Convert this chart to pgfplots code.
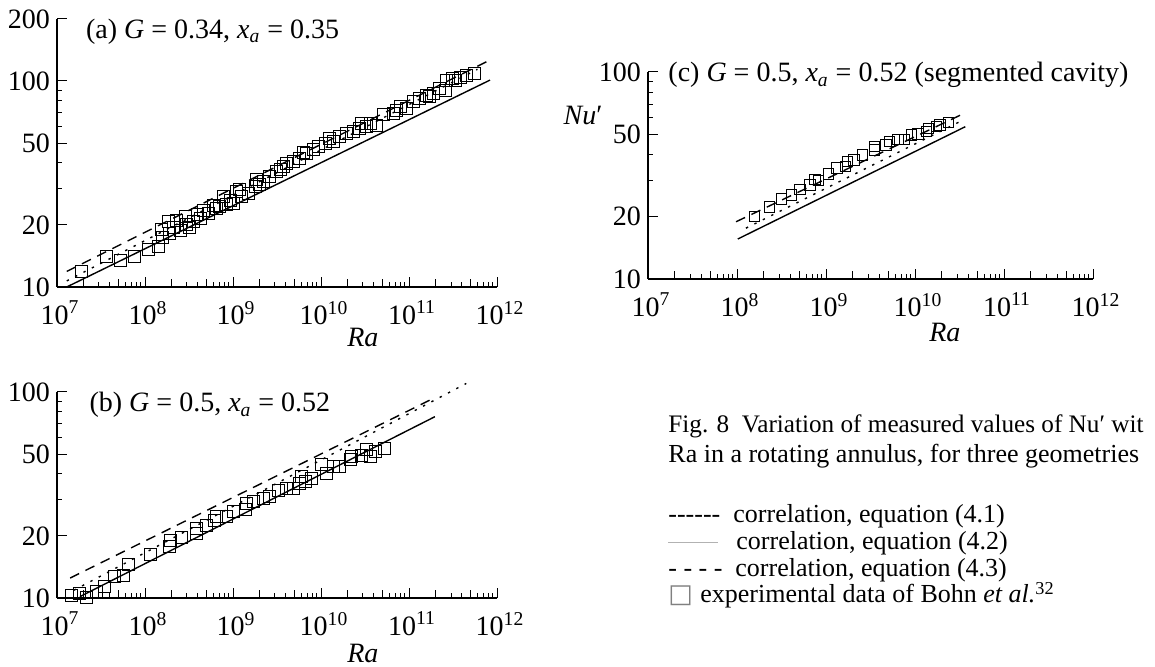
\documentclass[border=0pt]{standalone}
\usepackage{fontspec}
\setmainfont{Liberation Serif}
\newfontfamily\dejavu{DejaVu Sans}
\usepackage{pgfplots}
\pgfplotsset{compat=1.18}

\newcommand{\bigf}{\fontsize{14}{16}\selectfont}
\newcommand{\capf}{\fontsize{13}{15}\selectfont}

\begin{document}
\begin{tikzpicture}
\useasboundingbox (0,0) rectangle (577.5pt,333.5pt);

% ---------------- panel (a)
\begin{axis}[xmode=log, ymode=log, scale only axis,
    axis x line*=bottom, axis y line*=left,
    x axis line style={-}, y axis line style={-},
    axis line style={line width=0.6pt},
    xmin=1e7, xmax=1e12, tick align=inside,
    xtick={1e7,1e8,1e9,1e10,1e11,1e12},
    xticklabels={10\textsuperscript{7},10\textsuperscript{8},10\textsuperscript{9},10\textsuperscript{10},10\textsuperscript{11},10\textsuperscript{12}},
    minor xtick={3e7,4e7,6e7,7e7,8e7,9e7,3e8,4e8,6e8,7e8,8e8,9e8,3e9,4e9,6e9,7e9,8e9,9e9,3e10,4e10,6e10,7e10,8e10,9e10,3e11,4e11,6e11,7e11,8e11,9e11},
    extra x ticks={2e7,5e7,2e8,5e8,2e9,5e9,2e10,5e10,2e11,5e11},
    extra x tick labels={}, extra x tick style={major tick length=4pt},
    minor ytick={30,40,60,70,80,90},
    major tick length=5pt, minor tick length=2.5pt,
    tick style={black, line width=0.5pt},
    tick label style={font=\bigf}, xticklabel style={yshift=-3.5pt, xshift=1.5pt},
    clip=false,
    xlabel={\bigf\textit{Ra}},
    xlabel style={at={(axis description cs:0.695,0)}, anchor=center, yshift=-25pt},
    at={(28.5pt,190pt)}, anchor=south west,
    width=220pt, height=134pt, ymin=10, ymax=200,
    ytick={10,20,50,100,200}, yticklabels={10,20,50,100,200}]
\addplot[black, line width=0.7pt, dash pattern=on 5pt off 3.5pt] coordinates {(1.29e7,11.9) (7.59e11,124)};
\addplot[black, line width=0.7pt, dash pattern=on 1.2pt off 3.5pt] coordinates {(1.29e7,10.7) (6.0e11,114)};
\addplot[black, line width=0.7pt] coordinates {(1.29e7,10.0) (8.32e11,101)};
\addplot[only marks, mark=square, mark size=3pt, mark options={line width=0.5pt, black}] coordinates {
(1.905e7,11.9) (3.67e7,14.1) (5.2e7,13.4) (7.69e7,14.0) (1.09e8,15.2)
(1.416e8,15.8) (1.549e8,19.1) (1.923e8,18.2) (1.84e8,20.7) (2.29e8,21.1)
(2.5e8,18.9) (2.85e8,21.9) (2.95e8,20.0) (3.54e8,20.7) (4.22e8,21.5)
(4.57e8,23.6) (5.25e8,22.8) (5.97e8,25.0) (7.11e8,24.6) (7.76e8,27.4)
(9.25e8,26.4) (1.0e9,25.5) (1.096e9,29.0) (1.26e9,27.4) (1.49e9,28.5)
(1.78e9,30.7) (1.86e9,33.1) (2.21e9,32.4) (2.63e9,34.3) (3.14e9,36.3)
(3.72e9,38.4) (4.07e9,39.9) (4.85e9,40.6) (5.75e9,42.2) (6.87e9,44.6)
(8.13e9,46.3) (9.33e9,48.0) (1.11e10,49.8) (1.38e10,50.7) (1.64e10,53.7)
(1.95e10,55.7) (2.33e10,56.8) (2.75e10,58.9) (2.88e10,62.4) (3.61e10,62.4)
(4.27e10,61.1) (5.13e10,68.4) (6.61e10,69.7) (7.91e10,75.0) (9.42e10,73.6)
(1.12e11,79.4) (1.33e11,82.4) (1.58e11,85.5) (1.89e11,87.1) (2.24e11,92.2)
(2.57e11,90.4) (2.69e11,101) (3.16e11,103) (3.80e11,104) (4.53e11,106)
(5.62e11,109)
(1.6e8,17.3) (2.1e8,19.5) (3.2e8,19.5) (3.9e8,22.5) (6.5e8,24.0)
(8.5e8,25.2) (1.2e9,29.8) (2.0e9,31.5) (3.5e9,37.0) (6.3e9,45.0)
(1.25e10,52.5) (3.3e10,60.0) (7.2e10,72.0) (1.7e11,84.0) (3.4e11,100)
};
\node[anchor=base west, font=\bigf] at (axis description cs:0.05,0.929)
  {(a) \textit{G} = 0.34, \textit{x}\textsubscript{\textit{a}} = 0.35};
\end{axis}

% ---------------- panel (b)
\begin{axis}[xmode=log, ymode=log, scale only axis,
    axis x line*=bottom, axis y line*=left,
    x axis line style={-}, y axis line style={-},
    axis line style={line width=0.6pt},
    xmin=1e7, xmax=1e12, tick align=inside,
    xtick={1e7,1e8,1e9,1e10,1e11,1e12},
    xticklabels={10\textsuperscript{7},10\textsuperscript{8},10\textsuperscript{9},10\textsuperscript{10},10\textsuperscript{11},10\textsuperscript{12}},
    minor xtick={3e7,4e7,6e7,7e7,8e7,9e7,3e8,4e8,6e8,7e8,8e8,9e8,3e9,4e9,6e9,7e9,8e9,9e9,3e10,4e10,6e10,7e10,8e10,9e10,3e11,4e11,6e11,7e11,8e11,9e11},
    extra x ticks={2e7,5e7,2e8,5e8,2e9,5e9,2e10,5e10,2e11,5e11},
    extra x tick labels={}, extra x tick style={major tick length=4pt},
    minor ytick={30,40,60,70,80,90},
    major tick length=5pt, minor tick length=2.5pt,
    tick style={black, line width=0.5pt},
    tick label style={font=\bigf}, xticklabel style={yshift=-3.5pt, xshift=1.5pt},
    clip=false,
    xlabel={\bigf\textit{Ra}},
    xlabel style={at={(axis description cs:0.695,0)}, anchor=center, yshift=-27.5pt},
    at={(28.5pt,34.5pt)}, anchor=south west,
    width=220pt, height=103pt, ymin=10, ymax=100,
    ytick={10,20,50,100}, yticklabels={10,20,50,100}]
\addplot[black, line width=0.7pt, dash pattern=on 5pt off 3.5pt] coordinates {(1.41e7,12.5) (1.89e11,93.1)};
\addplot[black, line width=0.7pt, dash pattern=on 1.2pt off 3.5pt] coordinates {(1.55e7,10.9) (4.47e11,110)};
\addplot[black, line width=0.7pt] coordinates {(1.82e7,10.15) (1.97e11,75.9)};
\addplot[only marks, mark=square, mark size=3pt, mark options={line width=0.5pt, black}] coordinates {
(1.47e7,10.3) (1.82e7,10.5) (2.17e7,10.1) (2.82e7,10.7) (3.51e7,11.4)
(4.56e7,12.7) (5.66e7,12.9) (6.46e7,14.5) (1.14e8,16.2) (1.92e8,17.7)
(1.95e8,19.1) (2.61e8,19.7) (3.87e8,20.6) (3.87e8,21.8) (5.01e8,22.6)
(6.24e8,23.9) (6.53e8,24.8) (8.47e8,24.8) (1.01e9,26.3) (1.37e9,26.8)
(1.43e9,28.8) (1.70e9,29.3) (2.21e9,30.5) (2.63e9,31.0) (3.27e9,33.4)
(4.07e9,34.1) (4.85e9,34.1) (5.75e9,36.1) (6.03e9,38.8) (6.58e9,36.7)
(7.83e9,38.1) (1.02e10,44.3) (1.16e10,40.3) (1.38e10,43.4) (1.64e10,43.4)
(2.14e10,46.8) (2.24e10,48.5) (2.88e10,49.4) (3.31e10,52.3) (3.61e10,48.5)
(4.11e10,51.3) (5.33e10,53.3)
};
\node[anchor=base west, font=\bigf] at (axis description cs:0.058,0.904)
  {(b) \textit{G} = 0.5, \textit{x}\textsubscript{\textit{a}} = 0.52};
\end{axis}

% ---------------- panel (c)
\begin{axis}[xmode=log, ymode=log, scale only axis,
    axis x line*=bottom, axis y line*=left,
    x axis line style={-}, y axis line style={-},
    axis line style={line width=0.6pt},
    xmin=1e7, xmax=1e12, tick align=inside,
    xtick={1e7,1e8,1e9,1e10,1e11,1e12},
    xticklabels={10\textsuperscript{7},10\textsuperscript{8},10\textsuperscript{9},10\textsuperscript{10},10\textsuperscript{11},10\textsuperscript{12}},
    minor xtick={3e7,4e7,6e7,7e7,8e7,9e7,3e8,4e8,6e8,7e8,8e8,9e8,3e9,4e9,6e9,7e9,8e9,9e9,3e10,4e10,6e10,7e10,8e10,9e10,3e11,4e11,6e11,7e11,8e11,9e11},
    extra x ticks={2e7,5e7,2e8,5e8,2e9,5e9,2e10,5e10,2e11,5e11},
    extra x tick labels={}, extra x tick style={major tick length=4pt},
    minor ytick={30,40,60,70,80,90},
    major tick length=5pt, minor tick length=2.5pt,
    tick style={black, line width=0.5pt},
    tick label style={font=\bigf}, xticklabel style={yshift=-3.5pt, xshift=1.5pt},
    clip=false,
    xlabel={\bigf\textit{Ra}},
    xlabel style={at={(axis description cs:0.667,0)}, anchor=center, yshift=-26.5pt},
    ylabel={\bigf\textit{Nu}′},
    ylabel style={at={(axis description cs:-0.146,0.792)}, anchor=center, rotate=-90},
    at={(324pt,194pt)}, anchor=south west,
    width=222.5pt, height=103.5pt, ymin=10, ymax=100,
    ytick={10,20,50,100}, yticklabels={10,20,50,100}]
\addplot[black, line width=0.7pt, dash pattern=on 5pt off 3.5pt] coordinates {(9.75e7,18.9) (3.67e10,63.5)};
\addplot[black, line width=0.7pt, dash pattern=on 1.2pt off 3.5pt] coordinates {(1.26e8,17.6) (3.55e10,58.9)};
\addplot[black, line width=0.7pt] coordinates {(1.02e8,15.6) (3.67e10,54.4)};
\addplot[only marks, mark=square, mark size=2.6pt, mark options={line width=0.5pt, black}] coordinates {
(1.57e8,20.0) (2.33e8,22.3) (3.16e8,24.3) (4.11e8,25.5) (5.11e8,27.1)
(6.64e8,28.4) (7.55e8,30.3) (8.26e8,29.9) (1.07e9,32.2) (1.33e9,34.3)
(1.66e9,34.9) (1.73e9,36.9) (2.07e9,37.6) (2.57e9,39.7) (3.48e9,42.0)
(3.48e9,43.6) (4.72e9,44.4) (5.16e9,46.0) (6.41e9,47.3) (7.64e9,47.3)
(9.08e9,49.7) (1.08e10,50.2) (1.34e10,51.5) (1.41e10,53.5) (1.75e10,54.5)
(1.91e10,55.5) (2.37e10,56.9)
};
\node[anchor=base west, font=\bigf] at (axis description cs:0.03,0.952)
  {(c) \textit{G} = 0.5, \textit{x}\textsubscript{\textit{a}} = 0.52 (segmented cavity)};
\end{axis}

% ---------------- caption and key
\node[anchor=base west, font=\fontsize{12.6}{15}\selectfont, inner sep=0pt] at (334pt,117pt)
  {Fig. 8\ \ Variation of measured values of Nu′ wit};
\node[anchor=base west, font=\capf, inner sep=0pt] at (334pt,102pt)
  {Ra in a rotating annulus, for three geometries};
\node[anchor=base west, font=\capf, inner sep=0pt] at (334pt,72pt) {-{}-{}-{}-{}-{}-};
\node[anchor=base west, font=\capf, inner sep=0pt] at (366.5pt,72pt) {correlation, equation (4.1)};
\node[anchor=base west, font=\capf, inner sep=0pt] at (334pt,58.5pt)
  {\textcolor{gray!60}{\rule[3.3pt]{25pt}{0.5pt}}};
\node[anchor=base west, font=\capf, inner sep=0pt] at (368pt,58.5pt) {correlation, equation (4.2)};
\node[anchor=base west, font=\capf, inner sep=0pt] at (334pt,45pt) {- - - -};
\node[anchor=base west, font=\capf, inner sep=0pt] at (367.5pt,45pt) {correlation, equation (4.3)};
\node[anchor=base west, font=\capf, inner sep=0pt] at (334pt,32pt) {\textcolor{gray}{\dejavu □}};
\node[anchor=base west, font=\capf, inner sep=0pt] at (350pt,32pt) {experimental data of Bohn \textit{et al.}\textsuperscript{32}};
\end{tikzpicture}
\end{document}
